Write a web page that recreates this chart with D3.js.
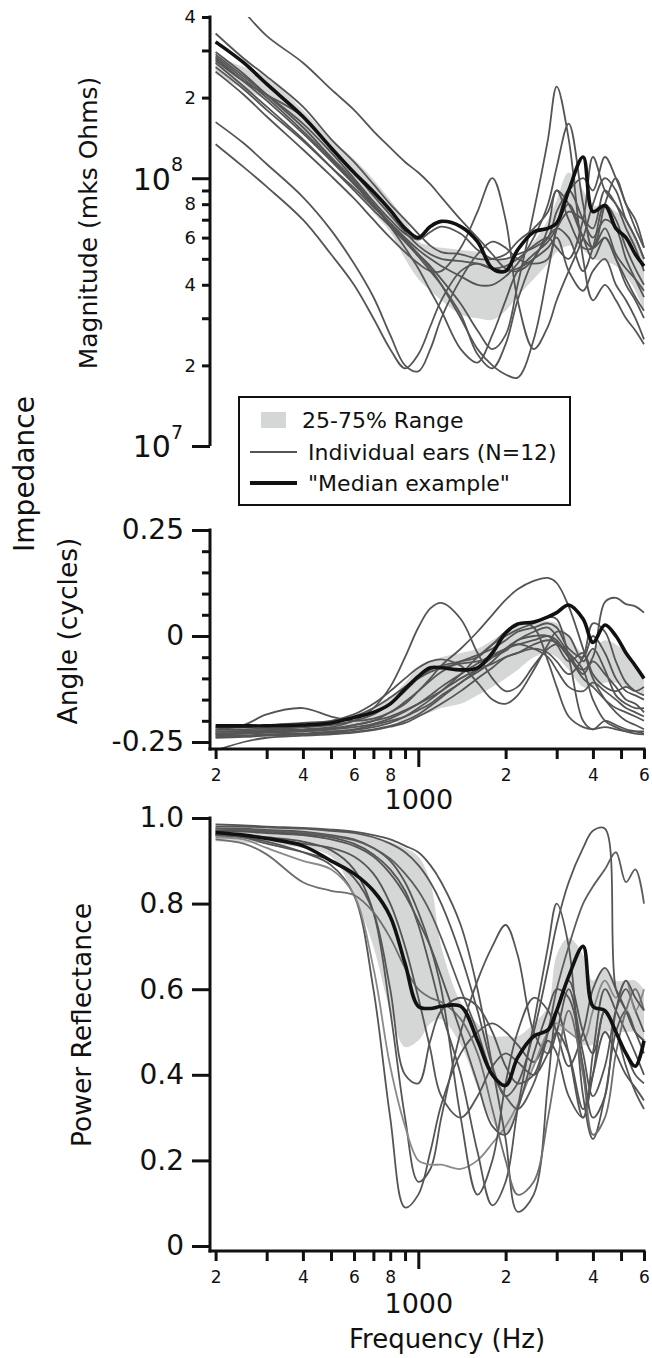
<!DOCTYPE html>
<html>
<head>
<meta charset="utf-8">
<script src="https://cdn.jsdelivr.net/npm/d3@7"></script>
<style>
  body { margin: 0; background: #fff; }
  svg text { font-family: "DejaVu Sans", sans-serif; fill: #111; }
</style>
</head>
<body>
<div id="chart"></div>
<script>
// Frequency grid (Hz) shared by every series
var freq = [200, 250, 300, 400, 500, 600, 700, 800, 900, 1000, 1100, 1200, 1400, 1600, 1800, 2000, 2200, 2500, 2800, 3000, 3300, 3700, 4000, 4400, 4800, 5200, 5600, 6000];

// Impedance magnitude, units of 10^7 mks Ohms
var magEars = [
  [55, 42, 34, 27, 21.5, 18, 15, 13, 11.5, 10.5, 9.5, 8.5, 7, 6, 5.2, 4.6, 4.5, 5, 6.5, 9, 8, 6, 5.5, 6.5, 5.2, 4.6, 4.2, 3.8],
  [34.7, 28, 24, 18.5, 14, 11.5, 9.5, 8, 7, 6.2, 5.6, 5.3, 5.2, 5.0, 5.0, 5.2, 5.8, 6.5, 7.5, 9, 7, 5.5, 5.5, 8, 10, 8, 7, 5.5],
  [13.4, 11, 9.3, 7, 5.2, 4.0, 3.0, 2.3, 1.95, 2.2, 2.8, 3.5, 4.5, 4.8, 4.6, 4.5, 4.6, 5, 5.5, 6, 4.5, 3.8, 4.5, 5, 4, 3.5, 3, 2.5],
  [16.2, 13.5, 11.3, 8.5, 6.4, 4.8, 3.6, 2.6, 2.0, 1.9, 2.3, 3.0, 4.2, 5.2, 5.8, 5.5, 5, 4.8, 5, 6.5, 8, 6, 5, 6, 5, 4, 3.5, 3],
  [28.5, 23.5, 20, 15, 11.8, 9.6, 8.0, 6.8, 5.9, 5.2, 4.6, 4.0, 3.0, 2.3, 2.0, 1.85, 1.8, 2.5, 4.5, 6.5, 9, 7, 6, 7, 6.5, 5, 4.2, 3.6],
  [27, 22, 18.5, 14, 11, 9, 7.6, 6.6, 5.8, 5.2, 4.7, 4.2, 3.4, 2.7, 2.3, 2.6, 4, 7.5, 14, 22, 14, 5, 3.5, 4, 3.5, 3, 2.7, 2.4],
  [26, 21.5, 18, 13.8, 11, 9.2, 7.8, 6.8, 6.0, 5.4, 5, 4.7, 4.3, 4.0, 4.0, 4.3, 4.8, 6, 8, 11, 16, 8, 5.5, 6, 5, 4.2, 3.6, 3.2],
  [25, 20.5, 17, 12.8, 10.2, 8.4, 7.0, 6.0, 5.3, 4.8, 4.5, 4.5, 5.5, 7.5, 10, 7, 3.5, 2.3, 2.8, 3.5, 4.5, 6, 8, 10, 9, 7, 6, 5],
  [29.6, 24.5, 20.5, 15.5, 12, 9.8, 8, 6.6, 5.5, 4.6, 3.8, 3.2, 2.3, 2.05, 2.6, 3.5, 4.5, 5.2, 5.8, 6.5, 7.5, 7, 6.5, 9, 8, 6.5, 5.5, 4.5],
  [28, 23, 19.5, 14.7, 11.6, 9.5, 7.9, 6.7, 5.8, 5.1, 4.5, 4.0, 3.1, 2.2, 1.95, 2.4, 3.5, 5, 6, 6.5, 6, 4.5, 5.5, 8, 7, 5.5, 4.6, 4],
  [29, 24, 20.5, 16, 12.5, 10, 8.2, 7, 6.2, 5.9, 6.3, 6.6, 6.2, 5.4, 5.0, 5.0, 5.2, 5.5, 6, 7.5, 9, 10, 9, 12, 10, 8, 6.5, 5.5],
  [27.5, 23, 20.5, 17, 13, 10.5, 8.6, 7.3, 6.3, 5.6, 5.2, 5.0, 4.9, 4.8, 4.6, 4.7, 5, 5.6, 6, 5.5, 5, 7, 12, 9, 8, 7, 6, 5]
];
var magMedian = [32.3, 27, 22.5, 17, 13, 10.5, 8.9, 7.6, 6.5, 6.0, 6.6, 6.9, 6.6, 5.8, 4.6, 4.5, 5.4, 6.3, 6.5, 6.8, 9, 12, 7.5, 7.9, 6.5, 6.0, 5.2, 4.7];
var magLo = [24.5, 21.5, 19.5, 14.9, 11.5, 9.3, 7.45, 6.3, 5.0, 4.2, 3.8, 3.5, 3.1, 3.0, 2.96, 3.2, 3.62, 4.2, 4.8, 5.3, 5.6, 5.4, 5.0, 4.9, 4.7, 4.3, 3.8, 3.2];
var magHi = [28.6, 26, 24, 18, 14, 11.8, 9.9, 8.3, 7.0, 5.8, 5.6, 5.5, 5.4, 5.3, 5.0, 5.0, 5.0, 5.8, 7.0, 8.3, 10.5, 9, 7.9, 8, 7.5, 7, 6, 5];

// Impedance angle, cycles
var angleEars = [
  [-0.225, -0.225, -0.222, -0.22, -0.215, -0.2, -0.17, -0.12, -0.05, 0.02, 0.065, 0.078, 0.04, -0.04, -0.1, -0.13, -0.12, -0.07, -0.03, -0.02, -0.05, -0.1, -0.12, -0.15, -0.17, -0.18, -0.19, -0.2],
  [-0.23, -0.23, -0.228, -0.225, -0.22, -0.21, -0.2, -0.18, -0.16, -0.13, -0.1, -0.07, -0.03, 0.01, 0.05, 0.085, 0.11, 0.13, 0.137, 0.125, 0.07, -0.03, -0.1, -0.15, -0.18, -0.2, -0.21, -0.22],
  [-0.235, -0.235, -0.232, -0.23, -0.225, -0.22, -0.21, -0.2, -0.19, -0.175, -0.16, -0.14, -0.11, -0.08, -0.05, -0.03, -0.02, -0.01, 0.0, -0.01, -0.05, -0.08, -0.05, 0.08, 0.09, 0.075, 0.07, 0.055],
  [-0.215, -0.215, -0.21, -0.205, -0.2, -0.185, -0.16, -0.13, -0.1, -0.075, -0.06, -0.055, -0.07, -0.11, -0.15, -0.16, -0.14, -0.08, -0.02, 0.01, 0.0, -0.06, -0.03, -0.08, -0.14, -0.16, -0.17, -0.17],
  [-0.24, -0.238, -0.235, -0.232, -0.228, -0.222, -0.215, -0.205, -0.19, -0.17, -0.15, -0.13, -0.09, -0.05, -0.02, 0.0, 0.015, 0.03, 0.045, 0.04, -0.05, -0.2, -0.22, -0.2, -0.21, -0.22, -0.225, -0.23],
  [-0.22, -0.21, -0.185, -0.17, -0.19, -0.2, -0.195, -0.18, -0.155, -0.13, -0.105, -0.085, -0.06, -0.045, -0.03, -0.01, 0.01, 0.02, 0.03, 0.02, -0.03, -0.05, 0.0, -0.04, -0.1, -0.13, -0.14, -0.15],
  [-0.27, -0.25, -0.24, -0.235, -0.232, -0.228, -0.222, -0.214, -0.205, -0.19, -0.175, -0.16, -0.13, -0.1, -0.075, -0.05, -0.04, -0.02, -0.01, -0.015, -0.04, -0.08, -0.15, -0.2, -0.215, -0.225, -0.23, -0.232],
  [-0.23, -0.228, -0.225, -0.222, -0.218, -0.21, -0.2, -0.19, -0.175, -0.16, -0.145, -0.13, -0.1, -0.08, -0.065, -0.05, -0.04, -0.03, -0.04, -0.06, -0.09, -0.05, 0.03, 0.01, -0.06, -0.11, -0.13, -0.14],
  [-0.22, -0.22, -0.218, -0.215, -0.21, -0.2, -0.185, -0.16, -0.13, -0.1, -0.08, -0.07, -0.06, -0.05, -0.02, 0.01, 0.03, 0.02, -0.06, -0.12, -0.19, -0.215, -0.22, -0.215, -0.22, -0.225, -0.225, -0.225],
  [-0.238, -0.236, -0.234, -0.232, -0.23, -0.226, -0.22, -0.212, -0.2, -0.185, -0.165, -0.145, -0.11, -0.085, -0.06, -0.03, -0.01, 0.0, 0.0, -0.02, -0.06, -0.04, -0.09, -0.12, -0.13, -0.12, -0.13, -0.12],
  [-0.225, -0.224, -0.222, -0.215, -0.205, -0.19, -0.17, -0.145, -0.12, -0.1, -0.085, -0.075, -0.065, -0.06, -0.05, -0.035, -0.01, 0.01, 0.02, 0.0, -0.04, -0.09, -0.06, -0.09, -0.12, -0.15, -0.16, -0.18],
  [-0.232, -0.23, -0.227, -0.224, -0.22, -0.215, -0.207, -0.195, -0.178, -0.16, -0.14, -0.12, -0.09, -0.065, -0.045, -0.03, -0.02, -0.03, -0.05, -0.08, -0.12, -0.13, -0.11, -0.13, -0.15, -0.17, -0.18, -0.19]
];
var angleMedian = [-0.212, -0.212, -0.212, -0.21, -0.205, -0.192, -0.18, -0.16, -0.125, -0.095, -0.075, -0.075, -0.08, -0.075, -0.04, 0.007, 0.028, 0.033, 0.045, 0.055, 0.073, 0.04, -0.015, 0.026, 0.0, -0.04, -0.07, -0.1];
var angleLo = [-0.235, -0.235, -0.233, -0.23, -0.228, -0.224, -0.215, -0.205, -0.2, -0.19, -0.18, -0.17, -0.16, -0.14, -0.12, -0.1, -0.08, -0.05, -0.04, -0.05, -0.08, -0.12, -0.12, -0.11, -0.11, -0.12, -0.13, -0.14];
var angleHi = [-0.215, -0.215, -0.213, -0.21, -0.205, -0.195, -0.175, -0.145, -0.11, -0.075, -0.06, -0.05, -0.04, -0.03, -0.01, 0.01, 0.025, 0.033, 0.035, 0.03, 0.0, -0.04, -0.03, -0.01, -0.02, -0.04, -0.07, -0.09];

// Power reflectance
var powerEars = [
  [0.96, 0.955, 0.945, 0.92, 0.89, 0.82, 0.6, 0.3, 0.09, 0.12, 0.22, 0.33, 0.45, 0.5, 0.52, 0.5, 0.47, 0.43, 0.5, 0.55, 0.45, 0.3, 0.4, 0.55, 0.5, 0.45, 0.4, 0.38],
  [0.965, 0.96, 0.955, 0.945, 0.925, 0.88, 0.78, 0.55, 0.3, 0.15, 0.18, 0.3, 0.5, 0.62, 0.7, 0.75, 0.68, 0.5, 0.45, 0.5, 0.6, 0.45, 0.35, 0.42, 0.55, 0.6, 0.55, 0.5],
  [0.955, 0.95, 0.93, 0.9, 0.88, 0.82, 0.65, 0.42, 0.28, 0.2, 0.19, 0.19, 0.18, 0.2, 0.24, 0.28, 0.33, 0.42, 0.5, 0.52, 0.5, 0.48, 0.55, 0.62, 0.58, 0.62, 0.55, 0.6],
  [0.975, 0.975, 0.972, 0.968, 0.96, 0.95, 0.93, 0.9, 0.85, 0.78, 0.7, 0.6, 0.3, 0.12, 0.2, 0.38, 0.5, 0.58, 0.55, 0.5, 0.42, 0.5, 0.6, 0.65, 0.6, 0.55, 0.5, 0.48],
  [0.97, 0.97, 0.968, 0.962, 0.955, 0.94, 0.915, 0.88, 0.83, 0.75, 0.65, 0.55, 0.4, 0.22, 0.095, 0.15, 0.32, 0.52, 0.7, 0.8, 0.7, 0.35, 0.25, 0.35, 0.5, 0.55, 0.5, 0.45],
  [0.985, 0.983, 0.98, 0.977, 0.973, 0.968, 0.96, 0.95, 0.935, 0.92, 0.89, 0.85, 0.75, 0.6, 0.42, 0.25, 0.08, 0.12, 0.38, 0.55, 0.62, 0.5, 0.45, 0.55, 0.5, 0.42, 0.36, 0.32],
  [0.98, 0.98, 0.978, 0.975, 0.97, 0.965, 0.955, 0.94, 0.92, 0.89, 0.85, 0.8, 0.68, 0.55, 0.42, 0.35, 0.38, 0.5, 0.65, 0.75, 0.85, 0.93, 0.97, 0.975, 0.6, 0.55, 0.5, 0.48],
  [0.975, 0.972, 0.97, 0.965, 0.958, 0.948, 0.93, 0.905, 0.87, 0.83, 0.78, 0.72, 0.6, 0.5, 0.4, 0.35, 0.32, 0.38, 0.5, 0.6, 0.7, 0.8, 0.84, 0.88, 0.92, 0.85, 0.88, 0.8],
  [0.96, 0.955, 0.94, 0.92, 0.9, 0.86, 0.78, 0.6, 0.4, 0.38, 0.48, 0.55, 0.58, 0.56, 0.5, 0.42, 0.38, 0.4, 0.48, 0.45, 0.35, 0.3, 0.45, 0.6, 0.55, 0.5, 0.45, 0.4],
  [0.95, 0.94, 0.915, 0.85, 0.83, 0.82, 0.78, 0.72, 0.65, 0.6, 0.58, 0.57, 0.53, 0.45, 0.32, 0.2, 0.12, 0.15, 0.3, 0.42, 0.55, 0.4, 0.26, 0.3, 0.45, 0.55, 0.6, 0.55],
  [0.97, 0.968, 0.965, 0.96, 0.95, 0.935, 0.91, 0.87, 0.82, 0.76, 0.7, 0.63, 0.5, 0.38, 0.28, 0.26, 0.32, 0.45, 0.55, 0.6, 0.58, 0.42, 0.3, 0.35, 0.55, 0.62, 0.58, 0.55],
  [0.96, 0.958, 0.952, 0.94, 0.93, 0.91, 0.87, 0.8, 0.7, 0.58, 0.46, 0.35, 0.3, 0.35, 0.42, 0.45, 0.43, 0.4, 0.45, 0.5, 0.45, 0.32, 0.4, 0.5, 0.45, 0.4, 0.37, 0.34]
];
var powerEarColors = ["#555", "#555", "#8a8a8a", "#555", "#555", "#555", "#555", "#5c5c5c", "#555", "#6e6e6e", "#555", "#555"];
var powerMedian = [0.966, 0.96, 0.952, 0.935, 0.9, 0.87, 0.83, 0.77, 0.66, 0.56, 0.555, 0.56, 0.56, 0.48, 0.4, 0.375, 0.44, 0.49, 0.505, 0.55, 0.63, 0.7, 0.56, 0.55, 0.5, 0.45, 0.42, 0.48];
var powerLo = [0.945, 0.942, 0.94, 0.93, 0.91, 0.82, 0.7, 0.55, 0.465, 0.48, 0.52, 0.53, 0.47, 0.37, 0.29, 0.26, 0.33, 0.42, 0.46, 0.5, 0.5, 0.47, 0.47, 0.5, 0.5, 0.5, 0.5, 0.48];
var powerHi = [0.985, 0.983, 0.98, 0.975, 0.97, 0.965, 0.957, 0.945, 0.93, 0.91, 0.85, 0.7, 0.57, 0.52, 0.49, 0.49, 0.49, 0.52, 0.56, 0.68, 0.72, 0.68, 0.62, 0.65, 0.62, 0.62, 0.62, 0.6];

// Tick values
var xMinorTicks = [200, 300, 400, 500, 600, 700, 800, 900, 2000, 3000, 4000, 5000, 6000];
var xTickLabels = {200: "2", 400: "4", 600: "6", 800: "8", 2000: "2", 4000: "4", 6000: "6"};
var magMinorTicks = [2, 3, 4, 5, 6, 7, 8, 9, 20, 30, 40];
var magTickLabels = {2: "2", 4: "4", 6: "6", 8: "8", 20: "2", 40: "4"};
var magMajorTicks = [1, 10];
var angleMajorTicks = [-0.25, 0, 0.25];
var angleMinorTicks = [-0.2, -0.15, -0.1, -0.05, 0.05, 0.1, 0.15, 0.2];
var powerTicks = [0, 0.2, 0.4, 0.6, 0.8, 1.0];

var svgWidth = 652;
var svgHeight = 1358;
var axisX = 210;

var svg = d3.select("#chart")
  .append("svg")
  .attr("width", svgWidth)
  .attr("height", svgHeight);

var xScale = d3.scaleLog().domain([200, 6000]).range([215.6, 644]);
var magY = d3.scaleLog().domain([1, 40]).range([446, 17]);
var angY = d3.scaleLinear().domain([-0.25, 0.25]).range([742, 530]);
var powY = d3.scaleLinear().domain([0, 1]).range([1246, 818]);

var curve = d3.curveCatmullRom.alpha(0.5);

function drawCurves(name, yScale, ears, colors, median, lo, hi, clipTop, clipBottom) {
  svg.append("clipPath").attr("id", "clip-" + name)
    .append("rect")
    .attr("x", 212).attr("y", clipTop)
    .attr("width", 436).attr("height", clipBottom - clipTop);

  var g = svg.append("g").attr("clip-path", "url(#clip-" + name + ")");

  var band = d3.area()
    .x((d, i) => xScale(freq[i]))
    .y0((d, i) => yScale(lo[i]))
    .y1((d, i) => yScale(hi[i]))
    .curve(curve);

  g.append("path")
    .datum(lo)
    .attr("d", band)
    .attr("fill", "#d5d6d6");

  var line = d3.line()
    .x((d, i) => xScale(freq[i]))
    .y(d => yScale(d))
    .curve(curve);

  g.selectAll("path.ear")
    .data(ears)
    .enter()
    .append("path")
    .attr("class", "ear")
    .attr("d", line)
    .attr("fill", "none")
    .attr("stroke", (d, i) => colors ? colors[i] : "#555")
    .attr("stroke-width", 1.8);

  g.append("path")
    .datum(median)
    .attr("d", line)
    .attr("fill", "none")
    .attr("stroke", "#111")
    .attr("stroke-width", 3.6);
}

drawCurves("mag", magY, magEars, null, magMedian, magLo, magHi, 17, 446);
drawCurves("ang", angY, angleEars, null, angleMedian, angleLo, angleHi, 528, 748);
drawCurves("pow", powY, powerEars, powerEarColors, powerMedian, powerLo, powerHi, 816, 1250);

function styleAxis(g) {
  g.select(".domain").remove();
  g.selectAll(".tick line").attr("stroke", "#111").attr("stroke-width", 3);
  g.selectAll(".tick text").attr("fill", "#111");
}

// vertical axis lines
function yAxisLine(top, bottom) {
  svg.append("line")
    .attr("x1", axisX).attr("x2", axisX)
    .attr("y1", top - 1.5).attr("y2", bottom)
    .attr("stroke", "#111").attr("stroke-width", 3);
}
yAxisLine(17, 446);
yAxisLine(530, 750.5);
yAxisLine(818, 1252.5);

// Magnitude axis
svg.append("g")
  .attr("transform", `translate(${axisX},0)`)
  .call(d3.axisLeft(magY).tickValues(magMinorTicks).tickSize(8).tickPadding(6)
    .tickFormat(d => magTickLabels[d] || ""))
  .call(styleAxis)
  .selectAll(".tick text").attr("font-size", 18);

var magMajor = svg.append("g")
  .attr("transform", `translate(${axisX},0)`)
  .call(d3.axisLeft(magY).tickValues(magMajorTicks).tickSize(18).tickPadding(9).tickFormat(""))
  .call(styleAxis);
magMajor.selectAll(".tick text")
  .attr("font-size", 30)
  .attr("dy", "0.36em")
  .each(function(d) {
    var t = d3.select(this);
    t.text("10");
    t.append("tspan").attr("font-size", 19).attr("dy", "-0.95em").text(d === 1 ? "7" : "8");
  });

// Angle axis
svg.append("g")
  .attr("transform", `translate(${axisX},0)`)
  .call(d3.axisLeft(angY).tickValues(angleMinorTicks).tickSize(8).tickFormat(""))
  .call(styleAxis);
svg.append("g")
  .attr("transform", `translate(${axisX},0)`)
  .call(d3.axisLeft(angY).tickValues(angleMajorTicks).tickSize(18).tickPadding(8)
    .tickFormat(d => d === 0 ? "0" : d3.format(".2f")(d).replace("\u2212", "-")))
  .call(styleAxis)
  .selectAll(".tick text").attr("font-size", 28);

// Power axis
svg.append("g")
  .attr("transform", `translate(${axisX},0)`)
  .call(d3.axisLeft(powY).tickValues(powerTicks).tickSize(18).tickPadding(8)
    .tickFormat(d => d === 0 ? "0" : d3.format(".1f")(d)))
  .call(styleAxis)
  .selectAll(".tick text").attr("font-size", 28);

// Frequency axes
function xAxis(y, bigPad) {
  svg.append("line")
    .attr("x1", axisX - 1.5).attr("x2", 645.5)
    .attr("y1", y).attr("y2", y)
    .attr("stroke", "#111").attr("stroke-width", 3);
  svg.append("g")
    .attr("transform", `translate(0,${y})`)
    .call(d3.axisBottom(xScale).tickValues(xMinorTicks).tickSize(10).tickPadding(10)
      .tickFormat(d => xTickLabels[d] || ""))
    .call(styleAxis)
    .selectAll(".tick text").attr("font-size", 17);
  svg.append("g")
    .attr("transform", `translate(0,${y})`)
    .call(d3.axisBottom(xScale).tickValues([1000]).tickSize(18).tickPadding(bigPad)
      .tickFormat(() => "1000"))
    .call(styleAxis)
    .selectAll(".tick text").attr("font-size", 27);
}
xAxis(749, 23);
xAxis(1251, 25);

// Axis titles
function vTitle(text, x, y, size) {
  svg.append("text")
    .attr("transform", `translate(${x},${y}) rotate(-90)`)
    .attr("text-anchor", "middle")
    .attr("dominant-baseline", "central")
    .attr("font-size", size)
    .text(text);
}
vTitle("Magnitude (mks Ohms)", 88, 223, 25);
vTitle("Impedance", 24, 474, 28);
vTitle("Angle (cycles)", 67, 631, 26.5);
vTitle("Power Reflectance", 81, 1025, 26.5);

svg.append("text")
  .attr("x", 447).attr("y", 1348)
  .attr("text-anchor", "middle")
  .attr("font-size", 26)
  .text("Frequency (Hz)");

// Legend
var legend = svg.append("g");
legend.append("rect")
  .attr("x", 239).attr("y", 397).attr("width", 331).attr("height", 108)
  .attr("fill", "#fff").attr("stroke", "#111").attr("stroke-width", 2);
legend.append("rect")
  .attr("x", 261).attr("y", 412).attr("width", 25).attr("height", 16)
  .attr("fill", "#d5d6d6");
legend.append("line")
  .attr("x1", 250).attr("x2", 297).attr("y1", 452).attr("y2", 452)
  .attr("stroke", "#555").attr("stroke-width", 1.8);
legend.append("line")
  .attr("x1", 250).attr("x2", 297).attr("y1", 483).attr("y2", 483)
  .attr("stroke", "#111").attr("stroke-width", 4);
var legendItems = [
  {label: "25-75% Range", x: 302, y: 420},
  {label: "Individual ears (N=12)", x: 308, y: 452},
  {label: "\"Median example\"", x: 308, y: 483}
];
legend.selectAll("text.leg")
  .data(legendItems)
  .enter()
  .append("text")
  .attr("class", "leg")
  .attr("x", d => d.x)
  .attr("y", d => d.y)
  .attr("dominant-baseline", "central")
  .attr("font-size", 22)
  .text(d => d.label);
</script>
</body>
</html>
